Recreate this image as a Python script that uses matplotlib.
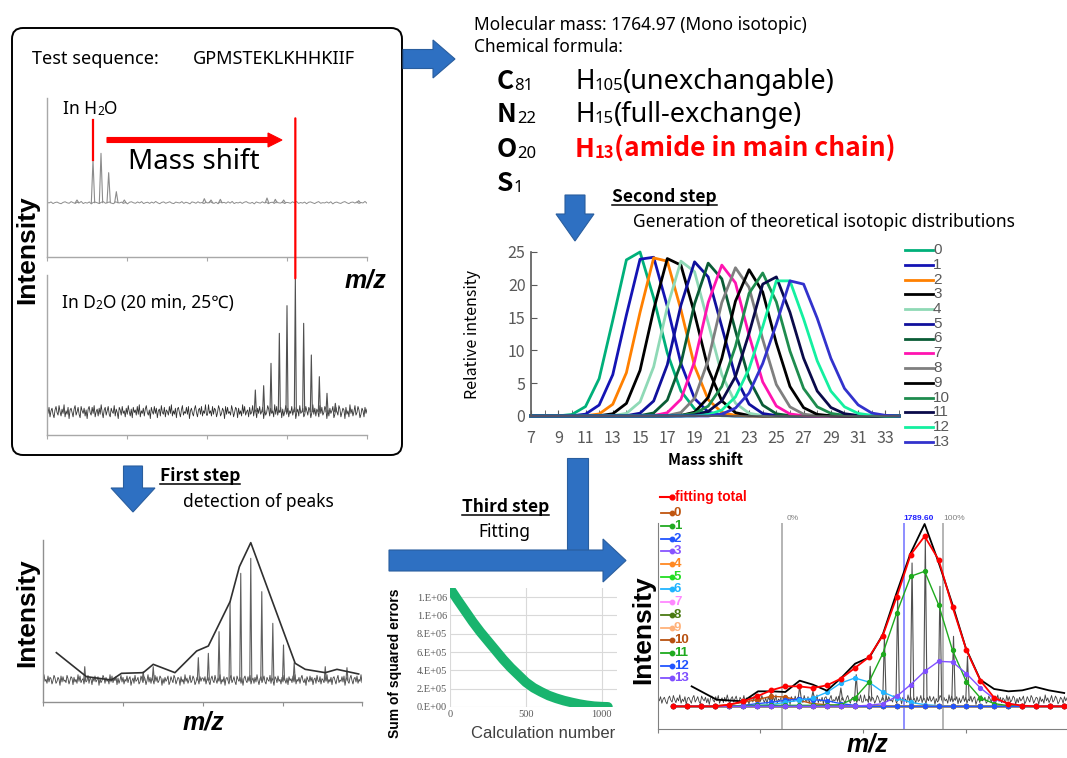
import numpy as np
import matplotlib
matplotlib.use("Agg")
import matplotlib.pyplot as plt
from matplotlib.patches import FancyBboxPatch, Polygon, ConnectionPatch

W, H = 1067, 758
JP = ['Noto Sans CJK JP', 'DejaVu Sans']
EN = ['Noto Sans', 'Noto Sans CJK JP', 'DejaVu Sans']
AR = ['Liberation Sans', 'DejaVu Sans']
SERIF = ['Liberation Serif', 'DejaVu Serif']
plt.rcParams['font.family'] = JP

# ---------------- texts ----------------
SEQUENCE = "GPMSTEKLKHHKIIF"
MOL_MASS = "1764.97"
FORMULA_ELEM = [("C", "81"), ("N", "22"), ("O", "20"), ("S", "1")]
FORMULA_H = [("105", "(unexchangable)", "black"),
             ("15", "(full-exchange)", "black"),
             ("13", "(amide in main chain)", "red")]

# ---------------- spectra (top-left box) ----------------
NOISE = [3, -2, 5, -6, 1, 4, -3, -7, 2, 6, -1, -4, 7, 0, -5, 3, -2, 8, -6, 1,
         -3, 5, -8, 2, 4, -1, -6, 3, 7, -4, 0, 5, -3, -7, 6, 1, -2, 4, -5, 2,
         -8, 3, 6, -1, -4, 5, -2, 7, -6, 0, 3, -5, 4, -3, 8, -1, -7, 2, 5, -4,
         1, 6, -3, -6, 4, 0, -2, 7, -5, 3, -1, -8, 5, 2, -4, 6, -2, 1, -6, 4,
         -3, 7, 0, -5, 3, -7, 5, -1, 2, -4, 6, -3, 8, -6, 1, -2, 4, -5, 3, 7,
         -1, -4, 2, -8, 5, 0, -3, 6, -2, 4, -7, 1, 3, -5, 7, -1, -3, 5, -6, 2,
         0, -4, 6, -2, 8, -5, 1, -3, 4, -7, 3, 5, -1, -6, 2, 7, -4, 0, -2, 5,
         -3, 6, -8, 1, 4, -2, -5, 3, 7, -1, -6, 2, 4, -3, 6, -5, 1, -2, 8, -4]

H2O_PEAK_X = [230, 278, 302, 325, 348, 372, 612, 632, 660, 800, 825, 850, 1075]
H2O_PEAK_H = [8, 128, 148, 90, 33, 8, 12, 8, 10, 14, 10, 8, 6]
D2O_PEAK_X = [765, 790, 812, 837, 860, 885, 910, 933, 957, 980, 1005]
D2O_PEAK_H = [65, 78, 145, 235, 318, 400, 265, 170, 105, 55, 25]

# ---------------- step 1 (peak detection) ----------------
BL_ENV_X = [170, 260, 335, 365, 430, 460, 525, 590, 625, 690, 718, 752, 885, 915, 975, 1010, 1075]
BL_ENV_H = [82, 10, 0, 20, 22, 47, 22, 87, 102, 235, 340, 412, 50, 32, 22, 32, 18]
BL_STICK_X = [255, 430, 460, 595, 625, 657, 690, 722, 752, 785, 818, 850, 882, 975, 1040]
BL_STICK_H = [40, 25, 40, 67, 80, 145, 235, 320, 365, 265, 170, 105, 52, 40, 37]

# ---------------- step 2 (theoretical distributions) ----------------
MASS_SHIFT = list(range(7, 35))
SERIES_LABELS = [str(i) for i in range(14)]
SERIES_COLORS = ['#00B07A', '#1414B4', '#FF8000', '#000000', '#8FD9B6', '#10109C', '#0A5C36',
                 '#FF14B0', '#7F7F7F', '#000000', '#1E8C4E', '#0A0A4A', '#14F0A0', '#3232CC']
S0 = [0, 0, 0.02, 0.23, 1.44, 5.7, 14.6, 23.8, 25.0, 18.0, 9.6, 3.8, 1.1, 0.25, 0.04, 0, 0, 0, 0, 0, 0, 0, 0, 0, 0, 0, 0, 0]
S1 = [0, 0, 0, 0.03, 0.28, 1.67, 6.3, 15.4, 23.9, 24.2, 16.7, 8.0, 2.66, 0.61, 0.10, 0.01, 0, 0, 0, 0, 0, 0, 0, 0, 0, 0, 0, 0]
S2 = [0, 0, 0, 0, 0.03, 0.31, 1.79, 6.6, 15.8, 24.1, 23.6, 16.2, 7.6, 2.49, 0.56, 0.09, 0.01, 0, 0, 0, 0, 0, 0, 0, 0, 0, 0, 0]
S3 = [0, 0, 0, 0, 0, 0.04, 0.34, 1.92, 6.95, 16.2, 24.0, 23.0, 15.6, 7.2, 2.3, 0.51, 0.08, 0.01, 0, 0, 0, 0, 0, 0, 0, 0, 0, 0]
S4 = [0, 0, 0, 0, 0, 0, 0.05, 0.40, 2.15, 7.5, 16.6, 23.6, 22.0, 14.2, 6.3, 1.96, 0.42, 0.06, 0.01, 0, 0, 0, 0, 0, 0, 0, 0, 0]
S5 = [0, 0, 0, 0, 0, 0, 0, 0.05, 0.43, 2.29, 7.8, 16.9, 23.5, 21.2, 13.6, 5.96, 1.81, 0.38, 0.06, 0.01, 0, 0, 0, 0, 0, 0, 0, 0]
S6 = [0, 0, 0, 0, 0, 0, 0, 0, 0.06, 0.47, 2.42, 8.0, 17.1, 23.3, 20.9, 13.0, 5.6, 1.66, 0.34, 0.05, 0.01, 0, 0, 0, 0, 0, 0, 0]
S7 = [0, 0, 0, 0, 0, 0, 0, 0, 0, 0.06, 0.50, 2.55, 8.3, 17.3, 23.0, 20.3, 12.3, 5.2, 1.52, 0.31, 0.04, 0, 0, 0, 0, 0, 0, 0]
S8 = [0, 0, 0, 0, 0, 0, 0, 0, 0, 0, 0.07, 0.54, 2.68, 8.5, 17.3, 22.6, 19.6, 11.7, 4.8, 1.39, 0.28, 0.04, 0, 0, 0, 0, 0, 0]
S9 = [0, 0, 0, 0, 0, 0, 0, 0, 0, 0, 0, 0.08, 0.58, 2.82, 8.8, 17.5, 22.3, 18.9, 11.1, 4.5, 1.27, 0.25, 0.03, 0, 0, 0, 0, 0]
S10 = [0, 0, 0, 0, 0, 0, 0, 0, 0, 0, 0, 0.1, 0.4, 1.5, 4.5, 10.6, 18.7, 21.8, 17.4, 9.9, 4.2, 1.4, 0.4, 0.1, 0, 0, 0, 0]
S11 = [0, 0, 0, 0, 0, 0, 0, 0, 0, 0, 0, 0, 0.15, 0.7, 2.3, 6.0, 12.6, 20.1, 21.2, 15.8, 8.8, 3.8, 1.3, 0.35, 0.08, 0, 0, 0]
S12 = [0, 0, 0, 0, 0, 0, 0, 0, 0, 0, 0, 0, 0, 0.2, 0.9, 2.9, 7.2, 13.6, 20.6, 20.6, 14.8, 8.4, 3.8, 1.4, 0.4, 0.1, 0, 0]
S13 = [0, 0, 0, 0, 0, 0, 0, 0, 0, 0, 0, 0, 0, 0, 0.3, 1.2, 3.5, 8.0, 14.0, 20.6, 20.1, 14.9, 8.8, 4.2, 1.7, 0.45, 0.1, 0]
SERIES = [S0, S1, S2, S3, S4, S5, S6, S7, S8, S9, S10, S11, S12, S13]

# ---------------- step 3 (fitting) ----------------
CALC_N = [10, 50, 100, 150, 200, 250, 300, 350, 400, 450, 500, 550, 600, 650, 700, 750, 800, 850, 900, 950, 1000, 1040]
SSE = [1.27e6, 1.17e6, 1.05e6, 0.93e6, 0.82e6, 0.72e6, 0.62e6, 0.52e6, 0.43e6, 0.35e6, 0.27e6, 0.21e6,
       0.165e6, 0.125e6, 0.095e6, 0.07e6, 0.05e6, 0.032e6, 0.018e6, 0.008e6, 0.003e6, 0.001e6]
SSE_TICKS = [0, 2e5, 4e5, 6e5, 8e5, 1e6, 1.2e6]
SSE_TICKLABELS = ["0.E+00", "2.E+05", "4.E+05", "6.E+05", "8.E+05", "1.E+06", "1.E+06"]

FIT_X = list(range(29))
FIT_TOTAL = [0, 0, 0, 0, 5, 15, 30, 48, 60, 60, 55, 63, 83, 115, 147, 212, 328, 455, 510, 440, 298, 168, 77, 25, 8, 2, 0, 0, 0]
FIT_LABELS = [str(i) for i in range(14)]
FIT_COLORS = ['#C0550F', '#22AA22', '#2255FF', '#8855FF', '#FF8822', '#22DD22', '#22B4FF',
              '#FF88FF', '#4A7A12', '#FFB27A', '#B8500F', '#1EAA1E', '#2255FF', '#8050FF']
ZERO = [0] * 29
COMP_0 = [0, 0, 0, 2, 5, 12, 20, 30, 28, 18, 8, 5, 2, 0, 0, 0, 0, 0, 0, 0, 0, 0, 0, 0, 0, 0, 0, 0, 0]
COMP_2 = [0, 0, 0, 0, 0, 3, 8, 12, 18, 22, 20, 17, 8, 3, 0, 0, 0, 0, 0, 0, 0, 0, 0, 0, 0, 0, 0, 0, 0]
COMP_6 = [0, 0, 0, 0, 0, 0, 2, 5, 12, 18, 25, 42, 70, 85, 73, 43, 25, 12, 5, 2, 0, 0, 0, 0, 0, 0, 0, 0, 0]
COMP_11 = [0, 0, 0, 0, 1, 2, 3, 3, 3, 3, 3, 3, 5, 25, 72, 158, 280, 390, 405, 305, 168, 73, 25, 8, 2, 0, 0, 0, 0]
COMP_13 = [0, 0, 0, 0, 0, 0, 0, 0, 0, 0, 0, 0, 0, 1, 3, 8, 30, 65, 105, 135, 133, 98, 55, 22, 8, 2, 0, 0, 0]
FIT_COMPONENTS = [COMP_0, ZERO, COMP_2, ZERO, ZERO, ZERO, COMP_6, ZERO, ZERO, ZERO, ZERO, COMP_11, ZERO, COMP_13]
ENV_X = [1.31, 3.1, 5.0, 6.07, 7.02, 8.02, 9.05, 10.0, 11.0, 12.02, 13.02, 14.05, 15.0, 15.95, 16.98,
         18.0, 19.0, 20.0, 20.95, 21.98, 22.98, 24.0, 25.0, 25.95, 26.9, 28.0]
ENV_H = [60, 20, 15, 45, 45, 43, 77, 65, 47, 85, 128, 147, 215, 335, 458, 547, 432, 305, 175, 80, 52,
         45, 48, 58, 48, 40]
FIT_STICK_X = [7.0, 9.05, 10.0, 12.0, 13.1, 14.1, 15.12, 16.07, 17.1, 18.05, 19.1, 20.07, 21.07]
FIT_STICK_H = [40, 60, 45, 55, 95, 120, 210, 330, 430, 500, 360, 210, 150]
VLINES = [(7.76, '#A0A0A0', '0%'), (16.55, '#7070FF', '1789.60'), (19.33, '#A0A0A0', '100%')]

# =====================================================================
fig = plt.figure(figsize=(W / 100, H / 100), dpi=100)
fig.patch.set_facecolor('white')


def add_ax(l, t, r, b):
    ax = fig.add_axes([l / W, 1 - b / H, (r - l) / W, (b - t) / H])
    ax.patch.set_alpha(0)
    return ax


def spec_axes(ax, xlim, ylim, ticks, col='#A8A8A8'):
    ax.set_xlim(*xlim)
    ax.set_ylim(*ylim)
    for s in ['top', 'right']:
        ax.spines[s].set_visible(False)
    for s in ['left', 'bottom']:
        ax.spines[s].set_color(col)
        ax.spines[s].set_linewidth(1.0)
    ax.set_xticks(ticks)
    ax.set_xticklabels([])
    ax.set_yticks([])
    ax.tick_params(axis='x', length=3, color=col, direction='out')


def sticks(ax, xs, hs, hw, base, **kw):
    for x0, h in zip(xs, hs):
        ax.plot([x0 - hw, x0, x0 + hw], [base, h, base], **kw)


# ---- H2O spectrum ----
ax_h = add_ax(47, 98, 367, 257)
spec_axes(ax_h, (140, 1100), (-163, 314), [140, 380, 620, 860, 1100])
ax_h.plot(np.linspace(140, 1100, len(NOISE)), np.array(NOISE) * 0.45, color='#8C8C8C', lw=0.7)
sticks(ax_h, H2O_PEAK_X, H2O_PEAK_H, 5, 0, color='#8C8C8C', lw=0.8)
ax_h.plot([H2O_PEAK_X[1]] * 2, [H2O_PEAK_H[1], 248], color='red', lw=1.6)

# ---- D2O spectrum ----
ax_d = add_ax(47, 275, 367, 435)
spec_axes(ax_d, (140, 1100), (-70, 410), [140, 380, 620, 860, 1100])
dn = NOISE + NOISE[::-1]
ax_d.plot(np.linspace(140, 1100, len(dn)), np.array(dn) * 2.6, color='#303030', lw=0.6)
sticks(ax_d, D2O_PEAK_X, D2O_PEAK_H, 3, 0, color='#505050', lw=0.8)
con = ConnectionPatch(xyA=(D2O_PEAK_X[5], D2O_PEAK_H[5]), coordsA=ax_d.transData,
                      xyB=(D2O_PEAK_X[5], 253), coordsB=ax_h.transData, color='red', lw=1.6)
fig.add_artist(con)

# ---- step 1 panel ----
ax_b = add_ax(43, 540, 362, 702)
spec_axes(ax_b, (130, 1085), (-66, 420), [130, 370, 608, 848, 1085], col='#909090')
bn = NOISE[::-1] + NOISE
ax_b.plot(np.linspace(130, 1085, len(bn)), np.array(bn) * 2.0, color='#404040', lw=0.6)
sticks(ax_b, BL_STICK_X, BL_STICK_H, 3, 0, color='#606060', lw=0.8)
ax_b.plot(BL_ENV_X, BL_ENV_H, color='#303030', lw=1.2)

# ---- step 2 chart ----
ax_m = add_ax(531, 252, 899, 416)
for lbl, col, vals in zip(SERIES_LABELS, SERIES_COLORS, SERIES):
    ax_m.plot(MASS_SHIFT, vals, color=col, lw=2.0, clip_on=False, label=lbl)
ax_m.set_xlim(7, 34)
ax_m.set_ylim(0, 25)
ax_m.set_xticks(range(7, 34, 2))
ax_m.set_xticks(range(8, 35, 2), minor=True)
ax_m.set_yticks(range(0, 26, 5))
for s in ['top', 'right']:
    ax_m.spines[s].set_visible(False)
for s in ['left', 'bottom']:
    ax_m.spines[s].set_color('#595959')
    ax_m.spines[s].set_linewidth(1.2)
ax_m.tick_params(axis='both', which='both', direction='in', length=4, color='#595959',
                 labelsize=11.5, labelcolor='#595959')
ax_m.tick_params(axis='x', pad=10)
ax_m.tick_params(axis='y', pad=4)
ax_m.set_ylabel('Relative intensity', fontsize=11.5, color='black')
ax_m.yaxis.set_label_coords(-0.158, 0.5)
ax_m.set_xlabel('Mass shift', fontsize=11, color='black', fontweight='bold')
ax_m.xaxis.set_label_coords(0.473, -0.27)
ax_m.xaxis.label.set_va('center')
ax_m.yaxis.label.set_va('center')

# ---- SSE chart ----
ax_s = add_ax(450, 588, 617, 707)
ax_s.plot(CALC_N, SSE, color='#19B46E', lw=7, solid_capstyle='round')
ax_s.set_xlim(0, 1100)
ax_s.set_ylim(0, 1.3e6)
ax_s.set_yticks(SSE_TICKS)
ax_s.set_yticklabels(SSE_TICKLABELS)
ax_s.set_xticks([0, 500, 1000])
ax_s.set_xticklabels(['0', '500', '1000'])
for lab in ax_s.get_xticklabels() + ax_s.get_yticklabels():
    lab.set_fontfamily(SERIF)
    lab.set_fontsize(7.5)
    lab.set_color('#595959')
ax_s.tick_params(length=0, pad=2)
ax_s.grid(True, color='#D9D9D9', lw=0.8)
ax_s.set_axisbelow(True)
for s in ax_s.spines.values():
    s.set_visible(False)

# ---- fitting chart ----
ax_f = add_ax(658, 523, 1067, 729)
ax_f.set_xlim(-1.1, 28.2)
ax_f.set_ylim(-68, 550)
for s in ['top', 'right']:
    ax_f.spines[s].set_visible(False)
for s in ['left', 'bottom']:
    ax_f.spines[s].set_color('#808080')
ax_f.set_xticks([-1.1, 6.2, 13.55, 21.0])
ax_f.set_xticklabels([])
ax_f.set_yticks([])
ax_f.tick_params(axis='x', length=3, color='#808080')
fn = NOISE + NOISE[::-1]
ax_f.plot(np.linspace(-1.1, 28.2, len(fn)), 20 + np.array(fn) * 1.8, color='#404040', lw=0.6)
sticks(ax_f, FIT_STICK_X, FIT_STICK_H, 0.12, 20, color='#505050', lw=0.8)
for xv, col, lbl in VLINES:
    ax_f.axvline(xv, color=col, lw=1.1)
    ax_f.text(xv + (1.0 if lbl == '1789.60' else 0.8), 1.005, lbl,
              transform=ax_f.get_xaxis_transform(), ha='center', va='bottom', fontsize=6,
              color=('#2020FF' if lbl == '1789.60' else '#808080'),
              fontweight=('bold' if lbl == '1789.60' else 'normal'), family=AR)
for lbl, col, vals in zip(FIT_LABELS, FIT_COLORS, FIT_COMPONENTS):
    ax_f.plot(FIT_X, vals, color=col, lw=1.0, marker='o', ms=2.8)
ax_f.plot(ENV_X, ENV_H, color='black', lw=1.3)
ax_f.plot(FIT_X, FIT_TOTAL, color='red', lw=1.3, marker='o', ms=3.2)

# =====================================================================
ov = fig.add_axes([0, 0, 1, 1], zorder=10)
ov.set_xlim(0, W)
ov.set_ylim(H, 0)
ov.axis('off')
ov.patch.set_alpha(0)
R = fig.canvas.get_renderer()


def rich(x, y, parts):
    cx = x
    for s, size, weight, color, dy in parts:
        fam = JP if weight == 'bold' else EN
        t = ov.text(cx, y + dy, s, fontsize=size, fontweight=weight, color=color,
                    family=fam, va='baseline', ha='left')
        cx += t.get_window_extent(renderer=R).width
    return cx


def underlined(x, y, s, size):
    t = ov.text(x, y, s, fontsize=size, fontweight='bold', family=JP, va='baseline', ha='left')
    w = t.get_window_extent(renderer=R).width
    ov.plot([x, x + w], [y + 3, y + 3], color='black', lw=1.1)


def right_arrow(x0, x1, yc, bh, hw, hl, fc, ec):
    pts = [(x0, yc - bh / 2), (x1 - hl, yc - bh / 2), (x1 - hl, yc - hw / 2), (x1, yc),
           (x1 - hl, yc + hw / 2), (x1 - hl, yc + bh / 2), (x0, yc + bh / 2)]
    ov.add_patch(Polygon(pts, closed=True, fc=fc, ec=ec, lw=0.8))


def down_arrow(xc, y0, y1, bw, hw, hl, fc, ec):
    pts = [(xc - bw / 2, y0), (xc + bw / 2, y0), (xc + bw / 2, y1 - hl), (xc + hw / 2, y1 - hl),
           (xc, y1), (xc - hw / 2, y1 - hl), (xc - bw / 2, y1 - hl)]
    ov.add_patch(Polygon(pts, closed=True, fc=fc, ec=ec, lw=0.8))


BLUE, BLUE_E = '#2E70C2', '#2A5E9E'

# box
ov.add_patch(FancyBboxPatch((12, 28), 390, 427, boxstyle='round,pad=0,rounding_size=11',
                            fill=False, ec='black', lw=1.4))
rich(32, 64, [("Test sequence:", 13, 'normal', 'black', 0)])
rich(193, 64, [(SEQUENCE, 13, 'normal', 'black', 0)])
rich(63, 114, [("In H", 12.5, 'normal', 'black', 0), ("2", 8.5, 'normal', 'black', 1),
               ("O", 12.5, 'normal', 'black', 0)])
rich(62, 308, [("In D", 12.5, 'normal', 'black', 0), ("2", 8.5, 'normal', 'black', 1),
               ("O (20 min, 25℃)", 12.5, 'normal', 'black', 0)])
rich(128, 169, [("Mass shift", 20, 'normal', 'black', 0)])
right_arrow(107, 282, 140, 5, 14, 14, 'red', 'red')
ov.text(27, 250, 'Intensity', rotation=90, ha='center', va='center', family=AR,
        fontweight='bold', fontsize=19)
ov.text(365, 280, 'm/z', ha='center', va='center', family=AR, fontweight='bold',
        style='italic', fontsize=18)

# top-right texts
right_arrow(403, 455, 59, 19, 38, 22, BLUE, BLUE_E)
rich(474, 30, [("Molecular mass: " + MOL_MASS + " (Mono isotopic)", 12.5, 'normal', 'black', 0)])
rich(474, 52, [("Chemical formula:", 12.5, 'normal', 'black', 0)])
rows_y = [89, 122, 157, 191]
for (el, n), yb in zip(FORMULA_ELEM, rows_y):
    rich(497, yb, [(el, 19, 'bold', 'black', 0), (n, 12, 'normal', 'black', 1)])
for (n, desc, col), yb in zip(FORMULA_H, rows_y):
    w = 'bold' if col == 'red' else 'normal'
    rich(575, yb, [("H", 19, w, col, 0), (n, 12, w, col, 1), (desc, 19 if col == 'red' else 19.5, w, col, 0)])

down_arrow(575, 195, 241, 20, 38, 27, BLUE, BLUE_E)
underlined(612, 202, "Second step", 12.5)
rich(633, 227, [("Generation of theoretical isotopic distributions", 12.5, 'normal', 'black', 0)])

# middle legend
for j, (lbl, col) in enumerate(zip(SERIES_LABELS, SERIES_COLORS)):
    yc = 250 + j * 14.75
    ov.plot([905, 933], [yc, yc], color=col, lw=2.0)
    ov.text(933, yc, lbl, color='#595959', fontsize=11, va='center', ha='left', family=AR)

# step 1
down_arrow(133, 466, 512, 19, 44, 24, BLUE, BLUE_E)
underlined(160, 481, "First step", 12.5)
rich(183, 507, [("detection of peaks", 12.5, 'normal', 'black', 0)])
ov.text(27, 613, 'Intensity', rotation=90, ha='center', va='center', family=AR,
        fontweight='bold', fontsize=19)
ov.text(203, 722, 'm/z', ha='center', va='center', family=AR, fontweight='bold',
        style='italic', fontsize=18)

# step 3
ov.add_patch(Polygon([(567, 458), (588, 458), (588, 550), (567, 550)], closed=True,
                     fc=BLUE, ec=BLUE_E, lw=0.8))
right_arrow(389, 626, 560.5, 21, 43, 23, BLUE, BLUE_E)
underlined(462, 512, "Third step", 12.5)
rich(478, 537, [("Fitting", 12.5, 'normal', 'black', 0)])
ov.text(395, 663, 'Sum of squared errors', rotation=90, ha='center', va='center', family=AR,
        fontweight='bold', fontsize=10)
ov.text(543, 733, 'Calculation number', ha='center', va='center', family=AR,
        fontsize=12, color='#404040')

# fitting legend
ov.plot([660, 672], [497, 497], color='red', lw=1.5, marker='o', ms=3.5, markevery=[1])
ov.text(675, 497, 'fitting total', color='red', fontsize=10, fontweight='bold', family=AR,
        va='center', ha='left')
for j, (lbl, col) in enumerate(zip(FIT_LABELS, FIT_COLORS)):
    yc = 513.3 + j * 12.69
    ov.plot([661, 672], [yc, yc], color=col, lw=1.3, marker='o', ms=3.2, markevery=[1])
    ov.text(674, yc, lbl, color=col, fontsize=9.5, fontweight='bold', family=AR,
            va='center', ha='left')
ov.text(643, 630, 'Intensity', rotation=90, ha='center', va='center', family=AR,
        fontweight='bold', fontsize=19)
ov.text(867, 745, 'm/z', ha='center', va='center', family=AR, fontweight='bold',
        style='italic', fontsize=18)

fig.savefig('out.png', dpi=100, facecolor='white')
